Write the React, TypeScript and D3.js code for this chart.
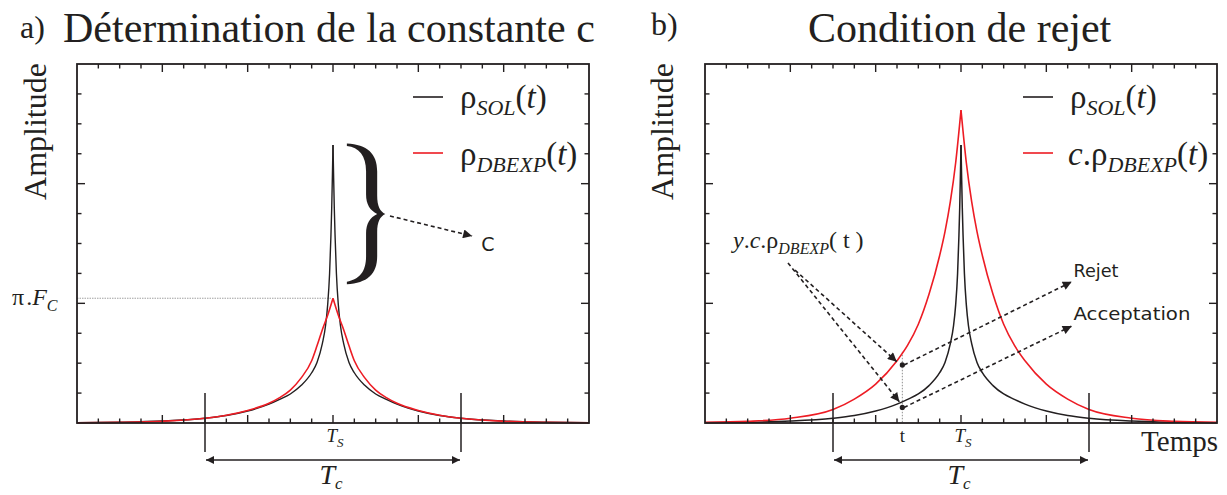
import React from "react";
import * as d3 from "d3";

// ---- data ----
const peakTime = 12; // T_S (x units, axis runs 0..24)
const xDomain = [0, 24];
const yDomain = [0, 12];
const tcStart = 6;
const tcEnd = 18;

// rho_SOL(t): distance from T_S -> amplitude (same in both panels)
const solOffsets = [0, 0.03, 0.06, 0.1, 0.16, 0.25, 0.35, 0.5, 0.75, 1, 1.5, 2, 2.5, 3, 4, 5, 6, 8, 10, 12];
const solValues = [9.29, 8.2, 7.2, 6.2, 5.0, 3.95, 3.25, 2.65, 2.02, 1.68, 1.25, 0.97, 0.79, 0.63, 0.4, 0.25, 0.16, 0.066, 0.026, 0.01];

// rho_DBEXP(t) (panel a) and c.rho_DBEXP(t) (panel b)
const dbexpOffsets = [0, 0.25, 0.5, 0.75, 1, 1.5, 2, 2.5, 3, 4, 5, 6, 8, 10, 12];
const dbexpValues = [4.17, 3.6, 3.12, 2.58, 2.08, 1.5, 1.1, 0.85, 0.66, 0.42, 0.26, 0.16, 0.06, 0.022, 0.008];
const cDbexpValues = [10.46, 8.7, 7.4, 6.4, 5.6, 4.3, 3.3, 2.6, 2.08, 1.3, 0.8, 0.45, 0.16, 0.055, 0.02];

// pi.Fc level (peak of rho_DBEXP)
const piFcLevel = 4.17;

// brace (panel a): x from, x tip, y top, y bottom
const braceBox = { x0: 12.65, x1: 14.45, yTop: 9.34, yBottom: 4.64 };
const braceArrow = { from: [14.67, 6.92], to: [18.52, 6.25] };
const cLabel = [18.95, 5.75];

// panel b annotations
const tPoint = 9.25;
const tRedValue = 2.38;
const yPoints = [1.94, 0.52];
const labelArrows = [
  { from: [3.89, 5.35], to: [9.11, 0.71] },
  { from: [4.22, 5.11], to: [8.99, 2.05] },
];
const outArrows = [
  { from: [9.33, 1.94], to: [17.19, 4.72], label: "Rejet", labelPos: [17.27, 4.89] },
  { from: [9.33, 0.52], to: [17.19, 3.24], label: "Acceptation", labelPos: [17.27, 3.44] },
];

const BLACK = "#231f20";
const RED = "#ed1c24";
const SERIF = "'Liberation Serif', 'Times New Roman', serif";
const SANS = "'DejaVu Sans', sans-serif";

const bracePath =
  "M0,0 C20,1 30,10 30,28 L30,52 C30,63 33,68 38,70.5 C33,73 30,78 30,89 L30,113 C30,131 20,140 0,141 L0,138.5 C12,136 19,129 19,113 L19,90 C19,80 23,74 30,70.5 C23,67 19,61 19,51 L19,28 C19,12 12,4 0,2.5 Z";

function halves(offsets: number[], values: number[]) {
  const left = offsets.map((o, i) => [peakTime - o, values[i]] as [number, number]).reverse();
  const right = offsets.map((o, i) => [peakTime + o, values[i]] as [number, number]);
  return [left, right];
}

function Frame({ x, y }: { x: d3.ScaleLinear<number, number>; y: d3.ScaleLinear<number, number> }) {
  const [x0, x1] = x.range();
  const [y0, y1] = y.range();
  const xt = d3.range(xDomain[0] + 1, xDomain[1]);
  const yt = d3.range(yDomain[0] + 1, yDomain[1]);
  return (
    <g stroke={BLACK} strokeWidth={1.4} fill="none">
      {xt.map((v) => {
        const len = v % 4 === 0 ? 8 : 4.5;
        return (
          <g key={"x" + v}>
            <line x1={x(v)} x2={x(v)} y1={y0} y2={y0 - len} />
            <line x1={x(v)} x2={x(v)} y1={y1} y2={y1 + len} />
          </g>
        );
      })}
      {yt.map((v) => {
        const len = v % 4 === 0 ? 8 : 4.5;
        return (
          <g key={"y" + v}>
            <line x1={x0} x2={x0 + len} y1={y(v)} y2={y(v)} />
            <line x1={x1} x2={x1 - len} y1={y(v)} y2={y(v)} />
          </g>
        );
      })}
      <rect x={x0} y={y1} width={x1 - x0} height={y0 - y1} strokeWidth={1.8} />
    </g>
  );
}

function Curve({ offsets, values, x, y, color, width }: any) {
  const line = d3
    .line<[number, number]>()
    .x((d) => x(d[0]))
    .y((d) => y(d[1]))
    .curve(d3.curveMonotoneX);
  const [l, r] = halves(offsets, values);
  return (
    <g fill="none" stroke={color} strokeWidth={width} strokeLinejoin="round">
      <path d={line(l) || ""} />
      <path d={line(r) || ""} />
    </g>
  );
}

function TcMarker({ x, y }: any) {
  return (
    <g>
      <g stroke={BLACK} strokeWidth={1.5}>
        <line x1={x(tcStart)} x2={x(tcStart)} y1={y(1)} y2={452} />
        <line x1={x(tcEnd)} x2={x(tcEnd)} y1={y(1)} y2={452} />
        <line
          x1={x(tcStart) + 1}
          x2={x(tcEnd) - 1}
          y1={460}
          y2={460}
          markerStart="url(#ahTc)"
          markerEnd="url(#ahTc)"
        />
      </g>
      <text x={x(peakTime) - 2} y={484} textAnchor="middle" fontFamily={SERIF} fontSize={28} fill={BLACK}>
        <tspan fontStyle="italic">T</tspan>
        <tspan fontStyle="italic" fontSize={17} dy={5}>c</tspan>
      </text>
      <text x={x(peakTime) + 2} y={442} textAnchor="middle" fontFamily={SERIF} fontSize={19} fill={BLACK}>
        <tspan fontStyle="italic">T</tspan>
        <tspan fontStyle="italic" fontSize={13} dy={5}>S</tspan>
      </text>
    </g>
  );
}

function Rho({ children }: any) {
  return <tspan fontFamily={SERIF}>{children}</tspan>;
}

export default function App() {
  const yS = d3.scaleLinear().domain(yDomain).range([423, 64]);
  const xA = d3.scaleLinear().domain(xDomain).range([77, 589]);
  const xB = d3.scaleLinear().domain(xDomain).range([705, 1217]);

  const bx0 = xA(braceBox.x0);
  const by0 = yS(braceBox.yTop);
  const bw = xA(braceBox.x1) - bx0;
  const bh = yS(braceBox.yBottom) - by0;

  return (
    <svg
      width={1227}
      height={495}
      style={{ position: "absolute", left: 0, top: 0, background: "#fff" }}
      fontFamily={SERIF}
    >
      <defs>
        <marker id="ahTc" viewBox="0 0 10 10" refX={10} refY={5} markerWidth={10} markerHeight={8} markerUnits="userSpaceOnUse" orient="auto-start-reverse">
          <path d="M0,0 L10,5 L0,10 z" fill={BLACK} />
        </marker>
        <marker id="ahD" viewBox="0 0 10 10" refX={10} refY={5} markerWidth={11} markerHeight={9} markerUnits="userSpaceOnUse" orient="auto">
          <path d="M0,0 L10,5 L0,10 z" fill={BLACK} />
        </marker>
      </defs>

      {/* ---------- titles ---------- */}
      <text x={20} y={38} fontSize={32} fill={BLACK}>a)</text>
      <text x={63} y={42} fontSize={42} fill={BLACK}>Détermination de la constante c</text>
      <text x={651} y={35} fontSize={32} fill={BLACK}>b)</text>
      <text x={808} y={42} fontSize={42} fill={BLACK}>Condition de rejet</text>

      {/* ---------- panel a ---------- */}
      <text transform="translate(45.5,131.5) rotate(-90)" textAnchor="middle" fontSize={32} fill={BLACK}>
        Amplitude
      </text>
      <line
        x1={xA(0)}
        x2={xA(peakTime) - 2}
        y1={yS(piFcLevel)}
        y2={yS(piFcLevel)}
        stroke="#a0a0a0"
        strokeWidth={1}
        strokeDasharray="1.5,1"
      />
      <Curve offsets={solOffsets} values={solValues} x={xA} y={yS} color={BLACK} width={1.4} />
      <Curve offsets={dbexpOffsets} values={dbexpValues} x={xA} y={yS} color={RED} width={1.6} />
      <Frame x={xA} y={yS} />
      <text x={12} y={305} fontSize={24} fill={BLACK}>
        <tspan>π</tspan>
        <tspan dx={2}>.</tspan>
        <tspan fontStyle="italic">F</tspan>
        <tspan fontStyle="italic" fontSize={16} dy={6}>C</tspan>
      </text>
      <path d={bracePath} fill={BLACK} transform={`translate(${bx0},${by0}) scale(${bw / 38},${bh / 141})`} />
      <line
        x1={xA(braceArrow.from[0])}
        y1={yS(braceArrow.from[1])}
        x2={xA(braceArrow.to[0])}
        y2={yS(braceArrow.to[1])}
        stroke={BLACK}
        strokeWidth={1.6}
        strokeDasharray="4,3"
        markerEnd="url(#ahD)"
      />
      <text x={xA(cLabel[0])} y={yS(cLabel[1])} fontFamily={SANS} fontSize={19} fill={BLACK}>C</text>
      <TcMarker x={xA} y={yS} />
      {/* legend a */}
      <line x1={413} x2={443} y1={97} y2={97} stroke={BLACK} strokeWidth={1.6} />
      <text x={460} y={107.5} fontSize={33} fill={BLACK}>
        <Rho>ρ</Rho>
        <tspan fontStyle="italic" fontSize={22} dy={7.5}>SOL</tspan>
        <tspan dy={-7.5}>(</tspan>
        <tspan fontStyle="italic">t</tspan>
        <tspan>)</tspan>
      </text>
      <line x1={413} x2={443} y1={153} y2={153} stroke={RED} strokeWidth={1.6} />
      <text x={460} y={164.5} fontSize={33} fill={BLACK}>
        <Rho>ρ</Rho>
        <tspan fontStyle="italic" fontSize={22} dy={7.5}>DBEXP</tspan>
        <tspan dy={-7.5}>(</tspan>
        <tspan fontStyle="italic">t</tspan>
        <tspan>)</tspan>
      </text>

      {/* ---------- panel b ---------- */}
      <text transform="translate(673,131.5) rotate(-90)" textAnchor="middle" fontSize={32} fill={BLACK}>
        Amplitude
      </text>
      <line
        x1={xB(tPoint)}
        x2={xB(tPoint)}
        y1={yS(tRedValue)}
        y2={yS(0)}
        stroke="#909090"
        strokeWidth={1}
        strokeDasharray="1.5,1.5"
      />
      <Curve offsets={solOffsets} values={solValues} x={xB} y={yS} color={BLACK} width={1.5} />
      <Curve offsets={dbexpOffsets} values={cDbexpValues} x={xB} y={yS} color={RED} width={1.6} />
      <Frame x={xB} y={yS} />
      {labelArrows.map((a, i) => (
        <line
          key={"la" + i}
          x1={xB(a.from[0])}
          y1={yS(a.from[1])}
          x2={xB(a.to[0])}
          y2={yS(a.to[1])}
          stroke={BLACK}
          strokeWidth={1.6}
          strokeDasharray="4,3"
          markerEnd="url(#ahD)"
        />
      ))}
      {outArrows.map((a, i) => (
        <g key={"oa" + i}>
          <line
            x1={xB(a.from[0])}
            y1={yS(a.from[1])}
            x2={xB(a.to[0])}
            y2={yS(a.to[1])}
            stroke={BLACK}
            strokeWidth={1.6}
            strokeDasharray="4,3"
            markerEnd="url(#ahD)"
          />
          <text
            x={xB(a.labelPos[0])}
            y={yS(a.labelPos[1])}
            fontFamily={SANS}
            fontSize={18}
            fill={BLACK}
            textLength={a.label === "Rejet" ? 45 : 117}
            lengthAdjust="spacingAndGlyphs"
          >
            {a.label}
          </text>
        </g>
      ))}
      {yPoints.map((v, i) => (
        <circle key={"p" + i} cx={xB(tPoint)} cy={yS(v)} r={2.6} fill={BLACK} />
      ))}
      <text x={733} y={248} fontSize={24} fill={BLACK}>
        <tspan fontStyle="italic">y</tspan>
        <tspan>.</tspan>
        <tspan fontStyle="italic">c</tspan>
        <tspan>.</tspan>
        <Rho>ρ</Rho>
        <tspan fontStyle="italic" fontSize={16} dy={5.5}>DBEXP</tspan>
        <tspan dy={-5.5}>( t )</tspan>
      </text>
      <text x={xB(tPoint)} y={442} textAnchor="middle" fontSize={19} fill={BLACK}>t</text>
      <TcMarker x={xB} y={yS} />
      <text x={1218} y={451} textAnchor="end" fontSize={29} fill={BLACK}>Temps</text>
      {/* legend b */}
      <line x1={1023} x2={1053} y1={97} y2={97} stroke={BLACK} strokeWidth={1.6} />
      <text x={1070} y={107.5} fontSize={33} fill={BLACK}>
        <Rho>ρ</Rho>
        <tspan fontStyle="italic" fontSize={22} dy={7.5}>SOL</tspan>
        <tspan dy={-7.5}>(</tspan>
        <tspan fontStyle="italic">t</tspan>
        <tspan>)</tspan>
      </text>
      <line x1={1023} x2={1053} y1={153} y2={153} stroke={RED} strokeWidth={1.6} />
      <text x={1068} y={164.5} fontSize={33} fill={BLACK}>
        <tspan fontStyle="italic">c</tspan>
        <tspan>.</tspan>
        <Rho>ρ</Rho>
        <tspan fontStyle="italic" fontSize={22} dy={7.5}>DBEXP</tspan>
        <tspan dy={-7.5}>(</tspan>
        <tspan fontStyle="italic">t</tspan>
        <tspan>)</tspan>
      </text>
    </svg>
  );
}
